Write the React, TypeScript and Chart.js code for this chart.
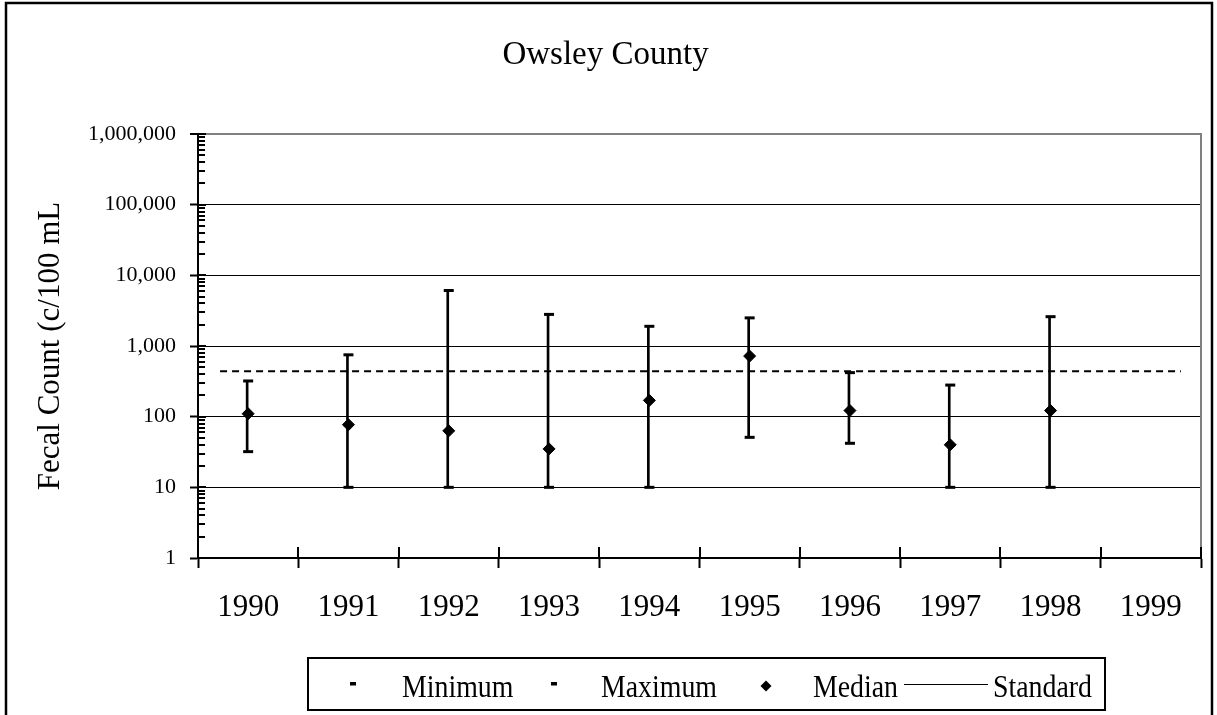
import React, { useEffect, useRef } from 'react';
import { Chart, registerables } from 'chart.js';

Chart.register(...registerables);

// ---- Data ----
const years = ['1990', '1991', '1992', '1993', '1994', '1995', '1996', '1997', '1998', '1999'];
const minimum: (number | null)[] = [32, 10, 10, 10, 10, 51, 42, 10, 10, null];
const maximum: (number | null)[] = [320, 750, 6100, 2800, 1900, 2500, 420, 280, 2600, null];
const median: (number | null)[] = [110, 77, 63, 35, 170, 720, 122, 40, 122, null];
const standardValue = 440;
const standardX = [-0.28, 9.3];
const yTicks = [1, 10, 100, 1000, 10000, 100000, 1000000];

const FONT = "'Liberation Serif', 'Times New Roman', Times, serif";

const decorPlugin = {
  id: 'decor',
  beforeDraw(chart: any) {
    const ctx = chart.ctx;
    ctx.save();
    ctx.fillStyle = '#ffffff';
    ctx.fillRect(0, 0, chart.width, chart.height);
    ctx.restore();
  },
  afterDraw(chart: any) {
    const ctx = chart.ctx as CanvasRenderingContext2D;
    const a = chart.chartArea;
    const xs = chart.scales.x;
    const ys = chart.scales.y;
    ctx.save();
    // right plot-area border (gray)
    ctx.strokeStyle = '#808080';
    ctx.lineWidth = 2;
    ctx.beginPath();
    ctx.moveTo(a.right, a.top - 1);
    ctx.lineTo(a.right, a.bottom);
    ctx.stroke();

    // inward part of x tick marks
    ctx.strokeStyle = '#000';
    ctx.lineWidth = 2;
    for (let i = 0; i <= years.length; i++) {
      const px = Math.round(xs.getPixelForValue(i - 0.5));
      ctx.beginPath();
      ctx.moveTo(px, a.bottom - 11);
      ctx.lineTo(px, a.bottom);
      ctx.stroke();
    }
    // inward y major ticks
    for (const v of yTicks) {
      const py = Math.round(ys.getPixelForValue(v));
      ctx.beginPath();
      ctx.moveTo(a.left, py);
      ctx.lineTo(a.left + 8, py);
      ctx.stroke();
    }
    // inward y minor ticks
    for (let d = 0; d < yTicks.length - 1; d++) {
      for (let k = 2; k <= 9; k++) {
        const py = Math.round(ys.getPixelForValue(yTicks[d] * k));
        ctx.beginPath();
        ctx.moveTo(a.left, py);
        ctx.lineTo(a.left + 7, py);
        ctx.stroke();
      }
    }

    // outer frame
    ctx.lineWidth = 2.5;
    ctx.strokeStyle = '#000';
    ctx.strokeRect(6, 3, 1206, 740);

    // legend
    ctx.lineWidth = 2;
    ctx.strokeRect(308, 658, 797, 52);
    ctx.fillStyle = '#000';
    ctx.fillRect(350, 682, 6, 3.5);
    ctx.fillRect(551, 682, 6, 3.5);
    // diamond
    ctx.beginPath();
    ctx.moveTo(766, 680.5);
    ctx.lineTo(771.5, 686);
    ctx.lineTo(766, 691.5);
    ctx.lineTo(760.5, 686);
    ctx.closePath();
    ctx.fill();
    // standard line sample
    ctx.lineWidth = 1;
    ctx.beginPath();
    ctx.moveTo(904, 684.5);
    ctx.lineTo(988, 684.5);
    ctx.stroke();

    const drawText = (t: string, x: number, y: number) => {
      ctx.save();
      ctx.translate(x, y);
      ctx.scale(0.87, 1);
      ctx.font = `32px ${FONT}`;
      ctx.textBaseline = 'alphabetic';
      ctx.textAlign = 'left';
      ctx.fillStyle = '#000';
      ctx.fillText(t, 0, 0);
      ctx.restore();
    };
    drawText('Minimum', 402, 697);
    drawText('Maximum', 601, 697);
    drawText('Median', 813, 697);
    drawText('Standard', 993, 697);
    ctx.restore();
  },
};

export default function App() {
  const ref = useRef<HTMLCanvasElement>(null);

  useEffect(() => {
    if (!ref.current) return;
    Chart.defaults.font.family = FONT;
    Chart.defaults.color = '#000';

    const errorBars = minimum.map((m, i) =>
      m == null || maximum[i] == null ? null : [m, maximum[i] as number]
    );

    const chart = new Chart(ref.current, {
      type: 'bar',
      data: {
        labels: years,
        datasets: [
          {
            type: 'line',
            label: 'Median',
            data: median,
            xAxisID: 'x',
            yAxisID: 'y',
            showLine: false,
            pointStyle: 'rectRot',
            pointRadius: 6,
            pointBorderWidth: 1,
            pointBackgroundColor: '#000',
            pointBorderColor: '#000',
            order: 0,
          } as any,
          {
            type: 'line',
            label: 'Maximum',
            data: maximum,
            xAxisID: 'x',
            yAxisID: 'y',
            showLine: false,
            pointStyle: 'line',
            pointRadius: 5,
            pointBorderWidth: 3,
            pointBorderColor: '#000',
            borderColor: '#000',
            order: 1,
          } as any,
          {
            type: 'line',
            label: 'Minimum',
            data: minimum,
            xAxisID: 'x',
            yAxisID: 'y',
            showLine: false,
            pointStyle: 'line',
            pointRadius: 5,
            pointBorderWidth: 3,
            pointBorderColor: '#000',
            borderColor: '#000',
            order: 1,
          } as any,
          {
            type: 'bar',
            label: 'Range',
            data: errorBars as any,
            xAxisID: 'x',
            yAxisID: 'y',
            backgroundColor: '#000',
            borderWidth: 0,
            barThickness: 2,
            order: 2,
          } as any,
          {
            type: 'line',
            label: 'Standard',
            data: standardX.map((x) => ({ x, y: standardValue })),
            xAxisID: 'xs',
            yAxisID: 'y',
            borderColor: '#000',
            borderWidth: 2,
            borderDash: [7, 5],
            pointRadius: 0,
            fill: false,
            order: 3,
          } as any,
        ],
      },
      options: {
        responsive: false,
        animation: false,
        devicePixelRatio: 1,
        layout: { padding: { left: 10, right: 16, top: 0, bottom: 0 } },
        plugins: {
          legend: { display: false },
          tooltip: { enabled: false },
          title: {
            display: true,
            text: 'Owsley County',
            color: '#000',
            font: { family: FONT, size: 33, weight: 'normal' },
            padding: { top: 35.8, bottom: 58.6 },
          },
        },
        scales: {
          x: {
            type: 'category',
            offset: true,
            grid: {
              offset: true,
              drawOnChartArea: false,
              drawTicks: true,
              tickLength: 10,
              tickWidth: 2,
              tickColor: '#000',
              color: '#000',
            },
            border: { display: true, color: '#000', width: 2 },
            ticks: {
              color: '#000',
              font: { family: FONT, size: 31 },
              padding: 21,
              maxRotation: 0,
              autoSkip: false,
            },
            afterFit: (scale: any) => {
              scale.height = 157;
            },
          },
          xs: {
            type: 'linear',
            display: false,
            offset: false,
            bounds: 'ticks',
            min: -0.5,
            max: 9.5,
            grid: { offset: false },
          },
          y: {
            type: 'logarithmic',
            min: 1,
            max: 1000000,
            afterBuildTicks: (scale: any) => {
              scale.ticks = yTicks.map((v) => ({ value: v }));
            },
            grid: {
              color: (c: any) => (c.tick && c.tick.value === 1000000 ? '#808080' : '#000'),
              lineWidth: (c: any) => (c.tick && c.tick.value === 1000000 ? 2 : 1),
              tickColor: '#000',
              tickLength: 8,
              tickWidth: 2,
            },
            border: { display: true, color: '#000', width: 2 },
            ticks: {
              color: '#000',
              font: { family: FONT, size: 22 },
              padding: 14,
              autoSkip: false,
              callback: (v: any) => Number(v).toLocaleString('en-US'),
            },
            title: {
              display: true,
              text: 'Fecal Count (c/100 mL',
              color: '#000',
              font: { family: FONT, size: 31, weight: 'normal' },
              padding: { top: 22.6, bottom: 0 },
            },
            afterFit: (scale: any) => {
              scale.width = 188;
            },
          },
        },
      },
      plugins: [decorPlugin],
    });

    return () => chart.destroy();
  }, []);

  return (
    <div style={{ position: 'absolute', left: 0, top: 0, width: 1217, height: 715, background: '#fff' }}>
      <canvas ref={ref} width={1217} height={715} style={{ display: 'block', width: 1217, height: 715 }} />
    </div>
  );
}
